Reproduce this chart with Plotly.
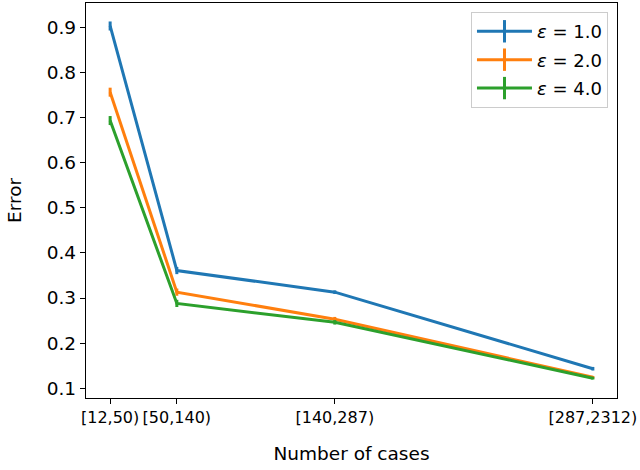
import plotly.graph_objects as go

x_pos = [12, 50, 140, 287]
x_labels = ["[12,50)", "[50,140)", "[140,287)", "[287,2312)"]
series_names = ["<i>ε</i> = 1.0", "<i>ε</i> = 2.0", "<i>ε</i> = 4.0"]
eps1 = [0.904, 0.361, 0.313, 0.143]
eps2 = [0.757, 0.313, 0.253, 0.124]
eps4 = [0.694, 0.288, 0.246, 0.122]
err1 = [0.010, 0.008, 0.004, 0.004]
err2 = [0.010, 0.008, 0.005, 0.003]
err4 = [0.010, 0.008, 0.005, 0.003]
colors = ["#1f77b4", "#ff7f0e", "#2ca02c"]

fig = go.Figure()
for name, ys, es, c in zip(series_names, [eps1, eps2, eps4], [err1, err2, err4], colors):
    fig.add_trace(go.Scatter(
        x=x_pos, y=ys, mode="lines", line=dict(color=c, width=3),
        error_y=dict(type="data", array=es, color=c, thickness=3, width=0),
        showlegend=False))
for i, (name, c) in enumerate(zip(series_names, colors)):
    fig.add_trace(go.Scatter(
        x=[None], y=[None], mode="lines+markers", name=name, legendgroup=f"g{i}",
        line=dict(color=c, width=3),
        marker=dict(symbol="line-ns", size=18, line=dict(color=c, width=3))))

fig.update_layout(
    width=640, height=470,
    margin=dict(l=86, r=23, t=3, b=72),
    plot_bgcolor="white", paper_bgcolor="white",
    font=dict(family="DejaVu Sans", color="black", size=18),
    legend=dict(x=0.983, y=0.977, xanchor="right", yanchor="top",
                bordercolor="#cccccc", borderwidth=1, bgcolor="white",
                font=dict(size=18), tracegroupgap=2, itemwidth=55),
    xaxis=dict(range=[-1.75, 300.75], tickvals=x_pos, ticktext=x_labels,
               tickfont=dict(size=16), showgrid=False, zeroline=False,
               showline=True, mirror=True, linecolor="black", linewidth=1.3,
               ticks="outside", ticklen=5, tickwidth=1.3, tickcolor="black", automargin=False,
               title=dict(text="Number of cases", font=dict(size=18.5), standoff=20)),
    yaxis=dict(range=[0.078, 0.955], tickvals=[0.1, 0.2, 0.3, 0.4, 0.5, 0.6, 0.7, 0.8, 0.9],
               tickformat=".1f", tickfont=dict(size=18.5), showgrid=False, zeroline=False,
               showline=True, mirror=True, linecolor="black", linewidth=1.3,
               ticks="outside", ticklen=5, tickwidth=1.3, tickcolor="black", automargin=False,
               title=dict(text="Error", font=dict(size=18.5), standoff=20)),
)
fig.write_html("out.html", post_script="document.body.style.margin='0';",
               config={"displayModeBar": False})
